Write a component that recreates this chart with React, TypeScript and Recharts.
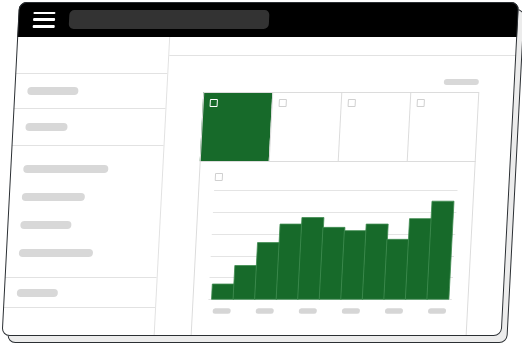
import React from "react";
import { BarChart, Bar, XAxis, YAxis, CartesianGrid } from "recharts";

// ---- chart data ----
const categories = ["1", "2", "3", "4", "5", "6", "7", "8", "9", "10", "11"];
const values = [14, 31, 52, 69, 75, 66, 63, 69, 55, 74, 90];
const yTicks = [0, 20, 40, 60, 80, 100];
const labeledCategories = ["1", "3", "5", "7", "9", "11"];

const data = categories.map((name, i) => ({ name, value: values[i] }));

// ---- layout constants (flat, pre-skew coordinates) ----
const GREEN = "#176a2a";
const LINE = "#e2e2e2";
const PILL = "#d8d8d8";
const FRAME = "#2b2f33";

const sidebarPills = [
  { top: 85, w: 51.5 },
  { top: 121, w: 42 },
  { top: 163, w: 85 },
  { top: 191, w: 63 },
  { top: 219, w: 51 },
  { top: 247, w: 74 },
  { top: 287, w: 41 },
];
const sidebarDividers = [71, 106, 143, 275, 305];

const abs = (s: React.CSSProperties): React.CSSProperties => ({ position: "absolute", boxSizing: "border-box", ...s });

const PillTick = (props: any) => {
  const { x, y, payload } = props;
  if (!labeledCategories.includes(String(payload.value))) return <g />;
  return <rect x={x - 9} y={y + 9} width={18} height={5.5} rx={2.5} fill="#d6d6d6" />;
};

const GridLine = (props: any) => {
  const { x1, x2, y1 } = props;
  const y = Math.round(y1) + 0.5;
  return <line x1={x1} x2={x2} y1={y} y2={y} stroke="#e4e4e4" strokeWidth={1} />;
};

const TILE_L = 188.7;
const TILE_T = 90.3;
const TILE_W = 69;
const TILE_H = 68.7;

export default function App() {
  return (
    <div style={{ position: "fixed", left: 0, top: 0, width: 522, height: 349, overflow: "hidden", background: "#fff" }}>
      <div style={abs({ left: 19, top: 2, width: 500, height: 334, transform: "skewX(-2.98deg)", transformOrigin: "0 0" })}>
        {/* shadow */}
        <div style={abs({ left: 6, top: 7, width: 500, height: 334, border: `1.5px solid ${FRAME}`, borderRadius: 8, background: "#ececec" })} />
        {/* window */}
        <div style={abs({ left: 0, top: 0, width: 500, height: 334, borderRadius: 8, overflow: "hidden", background: "#fff" })}>
          {/* header */}
          <div style={abs({ left: 0, top: 0, width: 500, height: 35, background: "#000" })} />
          {[9.7, 16.3, 23.3].map((t) => (
            <div key={t} style={abs({ left: 15.2, top: t, width: 22, height: 2.6, background: "#fff", borderRadius: 1 })} />
          ))}
          <div style={abs({ left: 50.7, top: 8, width: 200.6, height: 19.3, background: "#333", borderRadius: 5 })} />

          {/* sidebar */}
          <div style={abs({ left: 151.5, top: 35, width: 1, height: 300, background: LINE })} />
          {sidebarDividers.map((t) => (
            <div key={t} style={abs({ left: 0, top: t, width: 152, height: 1, background: LINE })} />
          ))}
          {sidebarPills.map((p) => (
            <div key={p.top} style={abs({ left: 12.5, top: p.top, width: p.w, height: 8, background: PILL, borderRadius: 4 })} />
          ))}

          {/* main top strip */}
          <div style={abs({ left: 152.5, top: 53, width: 348, height: 1, background: LINE })} />
          <div style={abs({ left: 428.7, top: 77.3, width: 35, height: 6, background: PILL, borderRadius: 3 })} />

          {/* tiles + card */}
          <div style={abs({ left: TILE_L, top: TILE_T, width: TILE_W, height: TILE_H, background: GREEN })} />
          <div style={abs({ left: TILE_L, top: TILE_T, width: TILE_W * 4, height: 260, border: "1px solid #dcdcdc" })} />
          <div style={abs({ left: TILE_L, top: TILE_T + TILE_H, width: TILE_W * 4, height: 1, background: "#dcdcdc" })} />
          {[1, 2, 3].map((i) => (
            <div key={i} style={abs({ left: TILE_L + TILE_W * i, top: TILE_T, width: 1, height: TILE_H, background: "#dcdcdc" })} />
          ))}
          {[0, 1, 2, 3].map((i) => (
            <div
              key={i}
              style={abs({
                left: TILE_L + TILE_W * i + 7.6,
                top: TILE_T + 6.4,
                width: 8,
                height: 8,
                border: `1.3px solid ${i === 0 ? "#ffffff" : "#d0d0d0"}`,
                borderRadius: 1,
              })}
            />
          ))}
          <div style={abs({ left: 204.9, top: 171, width: 8, height: 8, border: "1.3px solid #d0d0d0", borderRadius: 1 })} />

          {/* chart */}
          <div style={abs({ left: TILE_L, top: 159, width: 276, height: 175 })}>
            <BarChart
              width={276}
              height={175}
              data={data}
              margin={{ top: 29.3, right: 16.7, left: 15.9, bottom: 0 }}
              barCategoryGap={0}
              barGap={0}
            >
              <CartesianGrid vertical={false} horizontal={GridLine} stroke="#e4e4e4" />
              <XAxis
                dataKey="name"
                axisLine={false}
                tickLine={false}
                tickSize={0}
                tickMargin={0}
                interval={0}
                height={36.7}
                padding={{ left: 3.1, right: 3.4 }}
                tick={PillTick}
              />
              <YAxis hide domain={[0, 100]} ticks={yTicks} interval={0} />
              <Bar dataKey="value" fill={GREEN} stroke="#3f8c50" strokeWidth={0.8} isAnimationActive={false} />
            </BarChart>
          </div>
        </div>
        {/* frame border overlay */}
        <div style={abs({ left: 0, top: 0, width: 500, height: 334, border: `1.5px solid ${FRAME}`, borderRadius: 8, pointerEvents: "none" })} />
      </div>
    </div>
  );
}
